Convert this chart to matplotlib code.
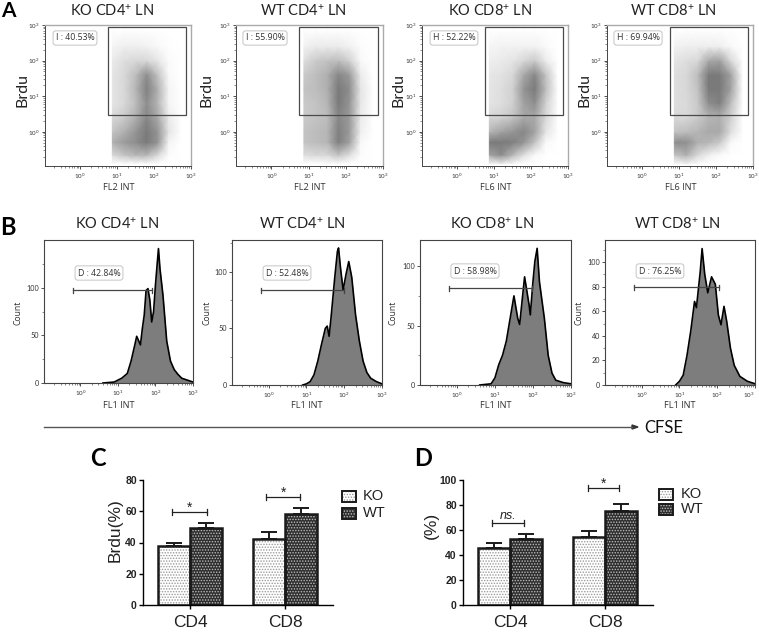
import matplotlib
matplotlib.use('Agg')
import matplotlib.pyplot as plt
from matplotlib.colors import LinearSegmentedColormap
from matplotlib.ticker import LogLocator, NullFormatter
import numpy as np

plt.rcParams['font.family'] = ['Lato', 'DejaVu Sans']
plt.rcParams['mathtext.default'] = 'regular'
plt.rcParams['hatch.linewidth'] = 0.7

W, H = 759, 632

# dot plot densities, read by eye on a log10 grid (0 = white, 1 = solid cloud)
dens_x = [0.85, 0.88, 1.2, 1.5, 1.8, 2.1, 2.4, 2.7]
dens_y = [-0.9, -0.65, -0.3, 0, 0.4, 0.8, 1.2, 1.6, 2.0, 2.4, 2.9]
ko_cd4_dens = [[0, 0, 0, .02, .02, 0, 0, 0],
               [0, .3, .45, .55, .55, .3, .02, 0],
               [0, .6, .75, .85, 1, .8, .08, 0],
               [0, .45, .6, .8, 1, .8, .2, .02],
               [0, .3, .4, .6, .9, .65, .15, .02],
               [0, .2, .3, .5, .85, .55, .08, .01],
               [0, .2, .3, .55, .95, .6, .08, .01],
               [0, .2, .3, .5, .85, .45, .05, 0],
               [0, .15, .25, .3, .3, .18, .03, 0],
               [0, .08, .12, .12, .1, .05, .01, 0],
               [0, 0, 0, 0, 0, 0, 0, 0]]
wt_cd4_dens = [[0, 0, 0, .02, .02, 0, 0, 0],
               [0, .25, .3, .3, .45, .25, .02, 0],
               [0, .45, .5, .55, .95, .7, .05, 0],
               [0, .45, .5, .55, .95, .75, .12, .01],
               [0, .4, .45, .5, .9, .75, .15, .02],
               [0, .4, .45, .55, 1, .8, .18, .02],
               [0, .45, .5, .6, 1, .85, .2, .02],
               [0, .4, .5, .6, .9, .75, .15, .01],
               [0, .25, .4, .45, .5, .35, .05, 0],
               [0, .1, .15, .15, .15, .1, .02, 0],
               [0, 0, 0, 0, 0, 0, 0, 0]]
ko_cd8_dens = [[0, .05, .12, .05, 0, 0, 0, 0],
               [0, .7, .85, .55, .25, .05, 0, 0],
               [0, 1, 1, .95, .8, .45, .05, 0],
               [0, .55, .7, .8, .9, .7, .2, .02],
               [0, .3, .35, .45, .65, .65, .3, .03],
               [0, .2, .25, .35, .7, .85, .35, .03],
               [0, .2, .25, .35, .8, 1, .5, .04],
               [0, .18, .22, .3, .65, .9, .45, .03],
               [0, .12, .15, .2, .3, .4, .15, .01],
               [0, .07, .1, .1, .1, .1, .04, 0],
               [0, 0, 0, 0, 0, 0, 0, 0]]
wt_cd8_dens = [[0, .03, .1, .03, 0, 0, 0, 0],
               [0, .45, .6, .3, .12, .03, 0, 0],
               [0, .85, .85, .6, .55, .4, .05, 0],
               [0, .45, .5, .55, .65, .65, .25, .02],
               [0, .3, .3, .4, .55, .6, .35, .03],
               [0, .25, .28, .4, .85, .95, .5, .04],
               [0, .25, .3, .45, 1, 1, .7, .05],
               [0, .25, .3, .5, 1, 1, .7, .05],
               [0, .2, .25, .3, .65, .7, .3, .02],
               [0, .1, .12, .13, .13, .12, .05, 0],
               [0, 0, 0, 0, 0, 0, 0, 0]]

dot_titles = ['KO CD4$^{+}$ LN', 'WT CD4$^{+}$ LN', 'KO CD8$^{+}$ LN', 'WT CD8$^{+}$ LN']
dot_xlabels = ['FL2 INT', 'FL2 INT', 'FL6 INT', 'FL6 INT']
dot_gates = ['I : 40.53%', 'I : 55.90%', 'H : 52.22%', 'H : 69.94%']

# CFSE histograms, log10 of FL1 against count
ko_cd4_x = [0.6, 0.9, 1.0, 1.1, 1.25, 1.35, 1.45, 1.5, 1.6, 1.65, 1.7, 1.75, 1.8, 1.85, 1.9, 1.95, 2.0, 2.05, 2.08, 2.12, 2.2, 2.3, 2.4, 2.5, 2.6, 2.7, 2.85, 3.0]
ko_cd4_y = [0, 1, 3, 5, 10, 23, 40, 49, 40, 57, 71, 97, 99, 87, 64, 75, 103, 127, 141, 120, 92, 44, 23, 14, 9, 5, 3, 1]
wt_cd4_x = [0.9, 1.0, 1.1, 1.2, 1.3, 1.4, 1.5, 1.55, 1.6, 1.65, 1.75, 1.82, 1.85, 1.9, 1.97, 2.05, 2.12, 2.2, 2.3, 2.4, 2.5, 2.6, 2.7, 2.85, 3.0]
wt_cd4_y = [0, 1, 3, 9, 21, 36, 50, 52, 43, 59, 95, 118, 121, 104, 84, 98, 109, 95, 62, 39, 21, 11, 6, 3, 1]
ko_cd8_x = [0.6, 0.9, 1.0, 1.1, 1.2, 1.3, 1.4, 1.5, 1.6, 1.65, 1.78, 1.9, 1.93, 2.0, 2.05, 2.11, 2.17, 2.3, 2.4, 2.5, 2.6, 2.8, 3.0]
ko_cd8_y = [0, 1, 6, 17, 25, 37, 56, 75, 56, 51, 91, 67, 59, 87, 104, 115, 87, 56, 25, 10, 4, 2, 1]
wt_cd8_x = [0.9, 1.0, 1.1, 1.2, 1.3, 1.4, 1.45, 1.55, 1.6, 1.67, 1.75, 1.85, 1.95, 2.03, 2.1, 2.18, 2.25, 2.35, 2.45, 2.6, 2.8, 3.0]
wt_cd8_y = [0, 3, 8, 24, 44, 68, 63, 92, 111, 90, 75, 88, 82, 57, 49, 64, 52, 30, 16, 7, 3, 1]
hist_gates = ['D : 42.84%', 'D : 52.48%', 'D : 58.98%', 'D : 76.25%']

# bar panels
groups = ['CD4', 'CD8']
c_ko = [38, 42]
c_wt = [49, 58.5]
c_ko_err = [2, 5]
c_wt_err = [3.5, 3.5]
d_ko = [45.5, 54.5]
d_wt = [53, 75]
d_ko_err = [4.5, 4.5]
d_wt_err = [4, 6]


def px_ax(left, top, right, bottom):
    return fig.add_axes([left / W, 1 - bottom / H, (right - left) / W, (bottom - top) / H])


def px_text(x, y, s, **kw):
    kw.setdefault('ha', 'center')
    kw.setdefault('va', 'center')
    return fig.text(x / W, 1 - y / H, s, **kw)


def log_x(ax, xmin):
    ax.set_xscale('log')
    ax.set_xlim(10 ** xmin, 1000)
    ax.set_xticks([1, 10, 100, 1000])
    ax.xaxis.set_minor_locator(LogLocator(base=10, subs=range(2, 10), numticks=6))
    ax.xaxis.set_minor_formatter(NullFormatter())
    ax.tick_params(which='major', length=2.2, width=0.6, labelsize=4.5, pad=2, colors='#333333')
    ax.tick_params(which='minor', length=1.1, width=0.4, colors='#333333')


fig = plt.figure(figsize=(W / 100, H / 100), dpi=100)
cloud = LinearSegmentedColormap.from_list('cloud', ['#ffffff', '#bdbdbd', '#7a7a7a'])

# ---- A: dot plots
a_boxes = [(45, 191), (236, 383), (422, 568), (607, 753)]
a_gate_px = [(108, 186), (299, 378), (485, 563), (670, 748)]
a_title_x = [112, 303, 490, 673]
a_brdu_x = [22, 207, 398, 584]
a_label_px = [75, 265, 454, 638]
grids = [ko_cd4_dens, wt_cd4_dens, ko_cd8_dens, wt_cd8_dens]
for i in range(4):
    left, right = a_boxes[i]
    ax = px_ax(left, 25, right, 166)
    xx = 10.0 ** np.array(dens_x)
    yy = 10.0 ** np.array(dens_y)
    ax.pcolormesh(xx, yy, np.array(grids[i]), shading='gouraud', cmap=cloud, vmin=0, vmax=1, rasterized=True)
    log_x(ax, -0.95)
    ax.set_yscale('log')
    ax.set_ylim(10 ** -0.96, 1000)
    ax.yaxis.set_major_locator(LogLocator(base=10, numticks=6))
    ax.yaxis.set_minor_locator(LogLocator(base=10, subs=range(2, 10), numticks=6))
    ax.yaxis.set_minor_formatter(NullFormatter())
    ax.tick_params(axis='y', which='major', pad=1.5)
    for s in ['top', 'right']:
        ax.spines[s].set_color('#aaaaaa')
        ax.spines[s].set_linewidth(1.0)
    for s in ['left', 'bottom']:
        ax.spines[s].set_color('#444444')
        ax.spines[s].set_linewidth(0.7)
    # gate
    g0, g1 = a_gate_px[i]
    fig.add_artist(plt.Rectangle((g0 / W, 1 - 115 / H), (g1 - g0) / W, 88 / H, fill=False, ec='#4a4a4a', lw=0.9))
    px_text(a_label_px[i], 38, dot_gates[i], fontsize=6.3, family='Open Sans', color='#333333',
            bbox=dict(boxstyle='round,pad=0.3', fc='white', ec='#bbbbbb', lw=0.6))
    px_text((left + right) / 2 + 0.5, 187, dot_xlabels[i], fontsize=6.6, family='Open Sans', color='#333333')
    px_text(a_title_x[i], 11, dot_titles[i], fontsize=10.5, color='#222222')
    px_text(a_brdu_x[i], 90, 'Brdu', fontsize=11.5, rotation=90, color='#222222')

# ---- B: histograms
b_boxes = [(44, 193), (232, 382), (420, 571), (605, 755)]
b_bottom = [383, 385, 385, 385]
b_ymax = [150, 128, 122, 118]
b_yticks = [[0, 50, 100], [0, 50, 100], [0, 50, 100], [0, 20, 40, 60, 80, 100]]
b_yminor = [25, 25, 25, 10]
b_title_x = [117, 302, 492, 677]
b_xlabel_x = [119, 307, 496, 680]
b_count_x = [18, 207, 393, 579]
b_gate_px = [(73, 152, 290), (261, 344, 290), (449, 532, 288), (634, 719, 287)]
b_label_px = [(99, 273), (287, 273), (475, 271), (660, 271)]
hist_x = [ko_cd4_x, wt_cd4_x, ko_cd8_x, wt_cd8_x]
hist_y = [ko_cd4_y, wt_cd4_y, ko_cd8_y, wt_cd8_y]
for i in range(4):
    left, right = b_boxes[i]
    ax = px_ax(left, 240, right, b_bottom[i])
    hx = 10.0 ** np.array(hist_x[i])
    ax.fill_between(hx, hist_y[i], 0, color='#7d7d7d', lw=0)
    ax.plot(hx, hist_y[i], color='black', lw=1.2)
    log_x(ax, -0.97)
    ax.set_ylim(0, b_ymax[i])
    ax.set_yticks(b_yticks[i])
    ax.set_yticks(np.arange(0, b_ymax[i], b_yminor[i]), minor=True)
    ax.tick_params(axis='y', which='major', pad=1.5, labelsize=5.2)
    for s in ax.spines.values():
        s.set_color('#444444')
        s.set_linewidth(0.8)
    if i == 3:
        # last label would run off the edge
        ax.get_xticklabels()[-1].set_ha('right')
    g0, g1, gy = b_gate_px[i]
    fig.add_artist(plt.Line2D([g0 / W, g1 / W], [1 - gy / H] * 2, color='#444444', lw=0.9))
    for g in (g0, g1):
        fig.add_artist(plt.Line2D([g / W, g / W], [1 - (gy - 2.5) / H, 1 - (gy + 2.5) / H], color='#444444', lw=0.9))
    px_text(b_label_px[i][0], b_label_px[i][1], hist_gates[i], fontsize=6.3, family='Open Sans', color='#333333',
            bbox=dict(boxstyle='round,pad=0.3', fc='white', ec='#bbbbbb', lw=0.6))
    px_text(b_xlabel_x[i], 406, 'FL1 INT', fontsize=6.6, family='Open Sans', color='#333333')
    px_text(b_count_x[i], 313, 'Count', fontsize=6.2, family='Open Sans', rotation=90, color='#333333')
    px_text(b_title_x[i], 224, dot_titles[i], fontsize=10.5, color='#222222')

# CFSE arrow
fig.add_artist(plt.Line2D([44 / W, 632 / W], [1 - 427 / H] * 2, color='#555555', lw=1.0))
fig.add_artist(plt.Polygon([(632 / W, 1 - 425 / H), (638 / W, 1 - 427 / H), (632 / W, 1 - 429 / H)], color='#333333'))
px_text(664, 428, 'CFSE', fontsize=12, color='#111111')

# panel letters
for s, x, y, fs in [('A', 8, 11, 15), ('B', 8, 228, 17), ('C', 98, 458, 17), ('D', 423, 458, 17)]:
    px_text(x, y, s, fontsize=fs, fontweight='bold', color='black')


# ---- C, D: bars
def draw_bars(ax, ko, wt, ko_err, wt_err):
    pos = np.arange(len(groups))
    w = 0.335
    ax.bar(pos - w / 2, ko, w, color='white', edgecolor='#9a9a9a', hatch='......', lw=0)
    ax.bar(pos + w / 2, wt, w, color='#2e2e2e', edgecolor='#bdbdbd', hatch='......', lw=0)
    ax.bar(pos - w / 2, ko, w, fill=False, edgecolor='#1a1a1a', lw=1.8)
    ax.bar(pos + w / 2, wt, w, fill=False, edgecolor='#1a1a1a', lw=1.8)
    ax.errorbar(pos - w / 2, ko, yerr=[[0, 0], ko_err], fmt='none', ecolor='#1a1a1a', elinewidth=1.4, capsize=5.5, capthick=1.4)
    ax.errorbar(pos + w / 2, wt, yerr=[[0, 0], wt_err], fmt='none', ecolor='#1a1a1a', elinewidth=1.4, capsize=5.5, capthick=1.4)
    ax.set_xticks(pos)
    ax.set_xticklabels(groups, family='Liberation Sans', fontsize=12.5, color='#222222')
    ax.set_xlim(-0.495, 1.505)
    ax.spines['top'].set_visible(False)
    ax.spines['right'].set_visible(False)
    ax.spines['left'].set_linewidth(1.0)
    ax.spines['bottom'].set_linewidth(1.0)
    ax.tick_params(axis='x', length=3, width=1, pad=4.5)
    ax.tick_params(axis='y', length=3, width=1, pad=1.5)
    for t in ax.get_yticklabels():
        t.set_family('Liberation Sans')
        t.set_fontweight('bold')
        t.set_fontsize(7.5)
        t.set_color('#222222')


def bracket(ax, x0, x1, y, s, sy, **kw):
    ax.plot([x0, x1], [y, y], color='#222222', lw=0.9)
    for x in (x0, x1):
        ax.plot([x, x], [y - ax.get_ylim()[1] * 0.022, y + ax.get_ylim()[1] * 0.022], color='#222222', lw=0.9)
    ax.text((x0 + x1) / 2, sy, s, ha='center', va='center', family='Liberation Sans', color='#222222', **kw)


def bar_legend(x, y0, y1, tx):
    for y, s, fc, ec in [(y0, 'KO', 'white', '#9a9a9a'), (y1, 'WT', '#2e2e2e', '#bdbdbd')]:
        fig.add_artist(plt.Rectangle((x / W, 1 - (y + 5.5) / H), 14 / W, 11 / H, fc=fc, ec=ec, hatch='......', lw=0))
        fig.add_artist(plt.Rectangle((x / W, 1 - (y + 5.5) / H), 14 / W, 11 / H, fill=False, ec='#1a1a1a', lw=1.4))
        px_text(tx, y, s, ha='left', family='Liberation Sans', fontsize=10.5, color='#222222')


ax_c = px_ax(143, 480, 333, 605)
ax_c.set_ylim(0, 80)
ax_c.set_yticks([0, 20, 40, 60, 80])
draw_bars(ax_c, c_ko, c_wt, c_ko_err, c_wt_err)
bracket(ax_c, -0.19, 0.18, 59.5, '*', 62.5, fontsize=10)
bracket(ax_c, 0.8, 1.158, 69, '*', 72, fontsize=10)
px_text(115, 530, 'Brdu(%)', family='Liberation Sans', fontsize=12.5, rotation=90, color='#222222')
bar_legend(342, 496, 513, 363)

ax_d = px_ax(463, 480, 653, 605)
ax_d.set_ylim(0, 100)
ax_d.set_yticks([0, 20, 40, 60, 80, 100])
draw_bars(ax_d, d_ko, d_wt, d_ko_err, d_wt_err)
bracket(ax_d, -0.19, 0.15, 65.6, 'ns.', 71.5, fontsize=9, style='italic')
bracket(ax_d, 0.82, 1.147, 93.6, '*', 97, fontsize=10)
px_text(431, 525, '(%)', family='Liberation Sans', fontsize=12.5, rotation=90, color='#222222')
bar_legend(659, 494, 509, 681)

plt.savefig('out.png', dpi=100)
